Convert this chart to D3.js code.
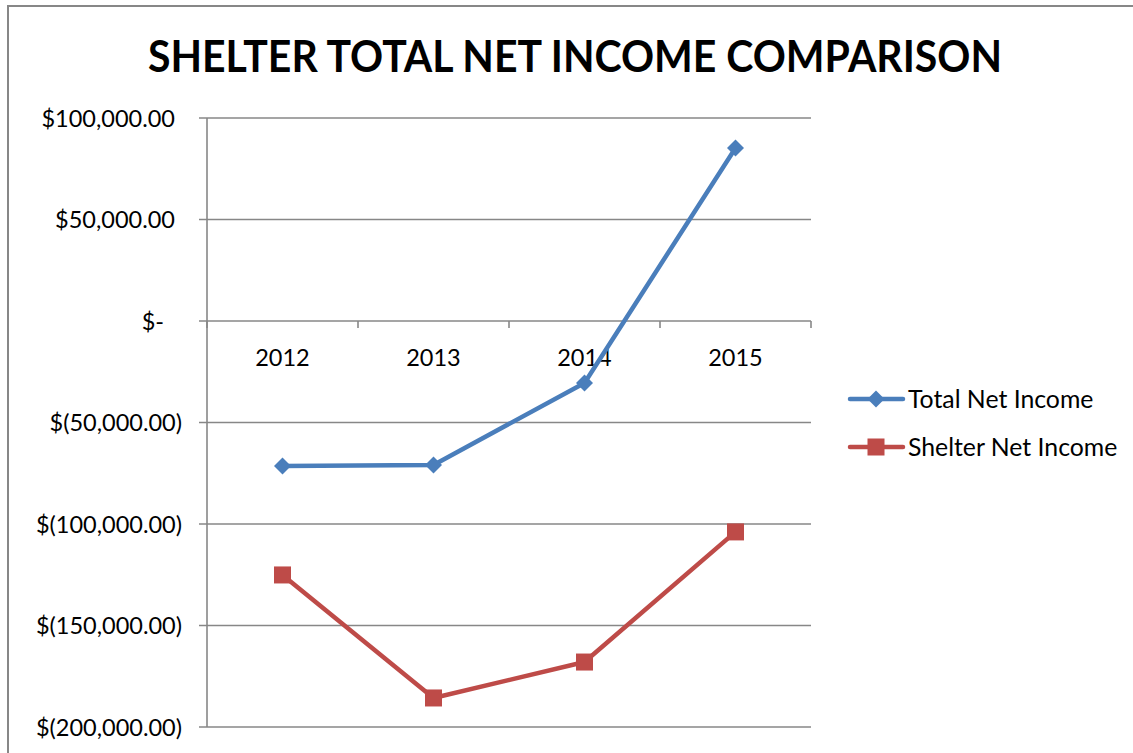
<!DOCTYPE html>
<html>
<head>
<meta charset="utf-8">
<script src="https://cdnjs.cloudflare.com/ajax/libs/d3/7.8.5/d3.min.js"></script>
<style>
  html, body { margin: 0; padding: 0; background: #fff; }
  svg { display: block; }
  text { font-family: Lato, "Open Sans", sans-serif; fill: #000; }
</style>
</head>
<body>
<svg id="chart" width="1133" height="753"></svg>
<script>
// Chart data
const years = ["2012", "2013", "2014", "2015"];
const totalNetIncome = [-71400, -70900, -30500, 85200];
const shelterNetIncome = [-125100, -185700, -168000, -103900];
const yTicks = [100000, 50000, 0, -50000, -100000, -150000, -200000];
const seriesNames = ["Total Net Income", "Shelter Net Income"];
const seriesColors = ["#4A7EBB", "#BE4B48"];

const svg = d3.select("#chart");
const W = 1133, H = 753;

// Outer chart frame
svg.append("rect")
  .attr("x", 8).attr("y", 6)
  .attr("width", W + 20).attr("height", H + 20)
  .attr("fill", "#fff").attr("stroke", "#878787").attr("stroke-width", 2);

// Title
svg.append("text")
  .attr("x", 575).attr("y", 72)
  .attr("text-anchor", "middle")
  .attr("font-size", 43).attr("font-weight", 700)
  .attr("textLength", 854).attr("lengthAdjust", "spacingAndGlyphs")
  .text("SHELTER TOTAL NET INCOME COMPARISON");

// Plot area
const plot = { left: 207, right: 811, top: 118, bottom: 727 };
const x = d3.scaleBand().domain(years).range([plot.left, plot.right]);
const y = d3.scaleLinear().domain([-200000, 100000]).range([plot.bottom, plot.top]);

const gridColor = "#878787";

// Horizontal gridlines with left tick marks
const grid = svg.append("g");
grid.selectAll("line").data(yTicks).join("line")
  .attr("x1", plot.left - 8).attr("x2", plot.right)
  .attr("y1", d => y(d)).attr("y2", d => y(d))
  .attr("stroke", gridColor).attr("stroke-width", 1.6);

// Vertical value axis
svg.append("line")
  .attr("x1", plot.left).attr("x2", plot.left)
  .attr("y1", plot.top).attr("y2", plot.bottom)
  .attr("stroke", gridColor).attr("stroke-width", 1.6);

// Value axis labels in accounting format (positives leave room for the closing paren)
const fmtMoney = d => {
  if (d === 0) return "$-";
  const s = d3.format(",.2f")(Math.abs(d));
  return d < 0 ? "$(" + s + ")" : "$" + s;
};
const labelRight = d => (d === 0 ? 164 : d < 0 ? 182 : 175);
svg.append("g").selectAll("text").data(yTicks).join("text")
  .attr("x", labelRight).attr("y", d => y(d) + 8.5)
  .attr("text-anchor", "end")
  .attr("font-size", 23.5)
  .text(fmtMoney);

// Category axis on the zero line: tick marks at band boundaries
const boundaries = years.map(d => x(d)).concat([plot.right]);
svg.append("g").selectAll("line").data(boundaries).join("line")
  .attr("x1", d => d).attr("x2", d => d)
  .attr("y1", y(0)).attr("y2", y(0) + 7)
  .attr("stroke", gridColor).attr("stroke-width", 1.6);

svg.append("g").selectAll("text").data(years).join("text")
  .attr("x", d => x(d) + x.bandwidth() / 2)
  .attr("y", y(0) + 45)
  .attr("text-anchor", "middle")
  .attr("font-size", 23.5)
  .text(d => d);

// Series lines and markers
const cx = d => x(d) + x.bandwidth() / 2;
const seriesData = [totalNetIncome, shelterNetIncome];
const line = d3.line().x(d => cx(d.year)).y(d => y(d.value));

const diamond = (g, px, py, color) => {
  const r = 8.5;
  g.append("path")
    .attr("d", `M${px},${py - r}L${px + r},${py}L${px},${py + r}L${px - r},${py}Z`)
    .attr("fill", color);
};
const square = (g, px, py, color) => {
  const s = 17;
  g.append("rect")
    .attr("x", px - s / 2).attr("y", py - s / 2)
    .attr("width", s).attr("height", s)
    .attr("fill", color);
};
const markers = [diamond, square];

seriesData.forEach((vals, i) => {
  const pts = years.map((yr, j) => ({ year: yr, value: vals[j] }));
  const g = svg.append("g");
  g.append("path").datum(pts)
    .attr("d", line)
    .attr("fill", "none")
    .attr("stroke", seriesColors[i])
    .attr("stroke-width", 4.5)
    .attr("stroke-linejoin", "round");
  pts.forEach(p => markers[i](g, cx(p.year), y(p.value), seriesColors[i]));
});

// Legend
const legendY = [399, 447];
seriesNames.forEach((name, i) => {
  const g = svg.append("g");
  g.append("line")
    .attr("x1", 850).attr("x2", 903)
    .attr("y1", legendY[i]).attr("y2", legendY[i])
    .attr("stroke", seriesColors[i]).attr("stroke-width", 4.5)
    .attr("stroke-linecap", "round");
  markers[i](g, 876, legendY[i], seriesColors[i]);
  g.append("text")
    .attr("x", 908).attr("y", legendY[i] + 8.5)
    .attr("font-size", 24.8)
    .text(name);
});
</script>
</body>
</html>
